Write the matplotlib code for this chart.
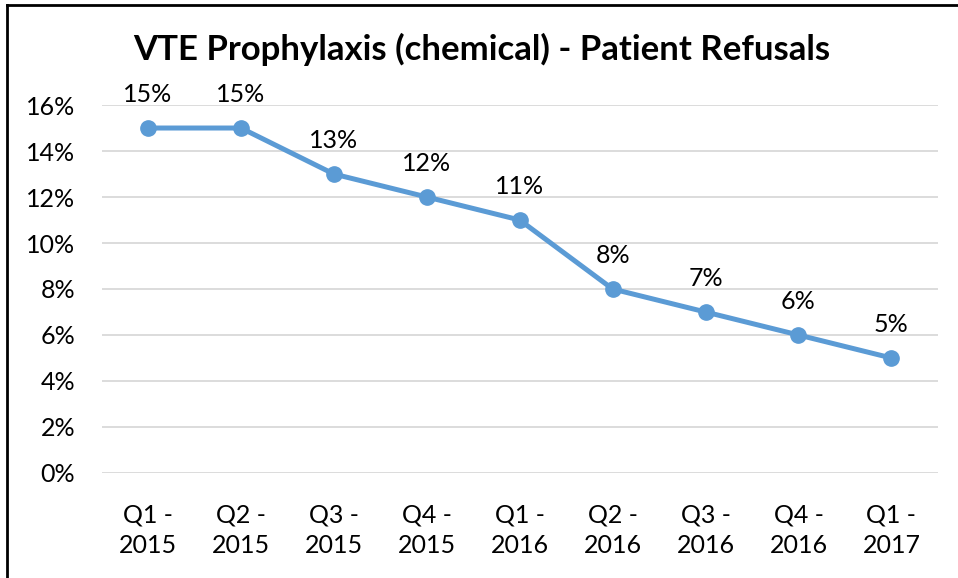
import matplotlib
matplotlib.use("Agg")
import matplotlib.pyplot as plt
from matplotlib.lines import Line2D

plt.rcParams['font.family'] = ['Lato', 'DejaVu Sans']

quarters = ["Q1 -\n2015", "Q2 -\n2015", "Q3 -\n2015", "Q4 -\n2015", "Q1 -\n2016",
            "Q2 -\n2016", "Q3 -\n2016", "Q4 -\n2016", "Q1 -\n2017"]
refusals = [15, 15, 13, 12, 11, 8, 7, 6, 5]  # percent
yticks = [0, 2, 4, 6, 8, 10, 12, 14, 16]

fig = plt.figure(figsize=(9.58, 5.78), dpi=100)
ax = fig.add_axes([0.106, 0.1817, 0.873, 0.6366])

x = range(len(quarters))
ax.plot(x, refusals, color="#5B9BD5", linewidth=3.6, marker="o", markersize=11,
        solid_capstyle="round", zorder=3)

for xi, v in zip(x, refusals):
    ax.annotate(f"{v}%", (xi, v), xytext=(0, 24), textcoords="offset points",
                ha="center", va="center", fontsize=18, color="black")

ax.set_xlim(-0.5, len(quarters) - 0.5)
ax.set_ylim(0, 16)
ax.set_yticks(yticks)
ax.set_yticklabels([f"{t}%" for t in yticks])
ax.set_xticks(list(x))
ax.set_xticklabels(quarters, linespacing=1.4)
ax.tick_params(axis="y", length=0, pad=19, labelsize=18)
ax.tick_params(axis="x", length=0, pad=22, labelsize=18)
ax.grid(axis="y", color="#D9D9D9", linewidth=1.3)
ax.set_axisbelow(True)
for s in ax.spines.values():
    s.set_visible(False)

fig.text(0.503, 0.915, "VTE Prophylaxis (chemical) - Patient Refusals",
         ha="center", va="center", fontsize=25, fontweight="bold")

# chart border (only top and left edges visible in the crop)
fig.add_artist(Line2D([0.0073, 0.0073], [0, 0.9914], transform=fig.transFigure,
                      color="black", linewidth=2))
fig.add_artist(Line2D([0.0073, 1], [0.9914, 0.9914], transform=fig.transFigure,
                      color="black", linewidth=2))

fig.savefig("out.png", dpi=100)
